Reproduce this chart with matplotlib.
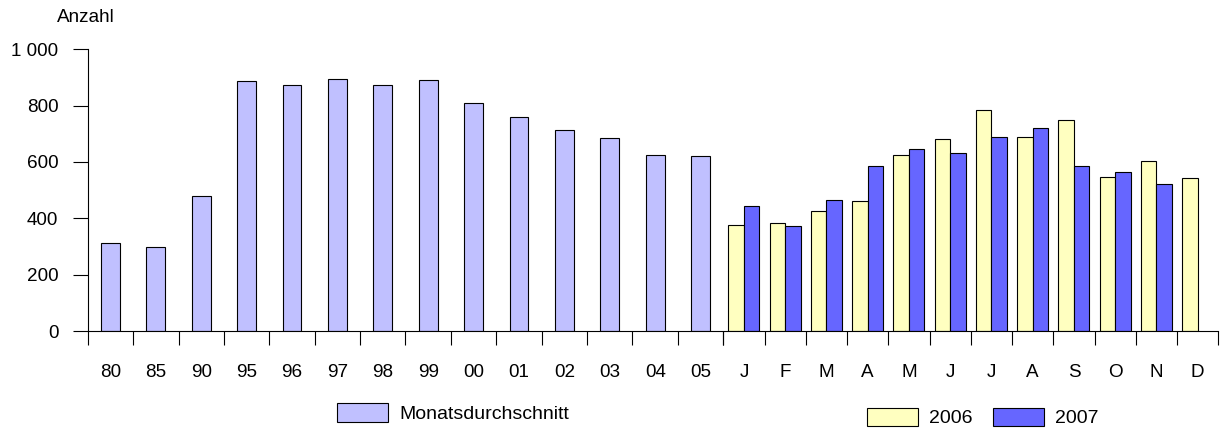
import matplotlib
matplotlib.use('Agg')
import matplotlib.pyplot as plt
from matplotlib.patches import Patch
import numpy as np

plt.rcParams['font.family'] = ['Liberation Sans', 'DejaVu Sans']

# Monatsdurchschnitt (Jahre)
years = ['80', '85', '90', '95', '96', '97', '98', '99', '00', '01', '02', '03', '04', '05']
avg = [311, 298, 480, 887, 874, 894, 872, 892, 808, 759, 712, 686, 626, 622]

# Monate 2006 / 2007
months = ['J', 'F', 'M', 'A', 'M', 'J', 'J', 'A', 'S', 'O', 'N', 'D']
v2006 = [377, 382, 425, 463, 626, 682, 786, 688, 748, 548, 604, 544]
v2007 = [443, 372, 464, 587, 646, 631, 688, 720, 586, 566, 523]

c_avg = '#C0C0FF'
c_06 = '#FFFFC0'
c_07 = '#6666FF'
fs = 13.6
fs_leg = 14

W, H = 1224, 430
fig = plt.figure(figsize=(W / 100, H / 100), dpi=100)

x0, x1, x2 = 87.7, 723.3, 1218.3
ybot, ytop = 331, 49.3
b = (H - ybot) / H
h = (ybot - ytop) / H
ax1 = fig.add_axes([x0 / W, b, (x1 - x0) / W, h])
ax2 = fig.add_axes([x1 / W, b, (x2 - x1) / W, h], sharey=ax1)

xa = np.arange(len(years))
ax1.bar(xa, avg, width=0.41, color=c_avg, edgecolor='black', linewidth=0.8)
ax1.set_xlim(-0.5, len(years) - 0.5)

xm = np.arange(len(months))
bw = 0.375
ax2.bar(xm - bw / 2, v2006, width=bw, color=c_06, edgecolor='black', linewidth=0.8)
ax2.bar(xm[:len(v2007)] + bw / 2, v2007, width=bw, color=c_07, edgecolor='black', linewidth=0.8)
ax2.set_xlim(-0.5, len(months) - 0.5)

ax1.set_ylim(0, 1000)
ax1.set_yticks([0, 200, 400, 600, 800, 1000])
ax1.set_yticklabels(['0', '200', '400', '600', '800', '1 000'])
ax1.tick_params(axis='y', direction='out', length=10.8, width=0.8, pad=10.4, labelsize=fs)

for ax, labels in ((ax1, years), (ax2, months)):
    n = len(labels)
    ax.set_xticks(np.arange(n + 1) - 0.5)
    ax.set_xticklabels([])
    ax.set_xticks(np.arange(n), minor=True)
    ax.set_xticklabels(labels, minor=True)
    ax.tick_params(axis='x', which='major', direction='out', length=10, width=0.8)
    ax.tick_params(axis='x', which='minor', length=0, pad=23.8, labelsize=fs)
    ax.spines['top'].set_visible(False)
    ax.spines['right'].set_visible(False)
    ax.spines['bottom'].set_linewidth(0.8)
    ax.spines['left'].set_linewidth(0.8)

ax2.spines['left'].set_visible(False)
ax2.tick_params(axis='y', left=False, labelleft=False)

fig.text(57 / W, 1 - 17 / H, 'Anzahl', fontsize=fs, va='center', ha='left')

leg_kw = dict(frameon=False, borderpad=0, borderaxespad=0, fontsize=fs_leg,
              handlelength=2.6, handleheight=1.1, handletextpad=0.6, loc='center left')
fig.legend(handles=[Patch(facecolor=c_avg, edgecolor='black', linewidth=0.8, label='Monatsdurchschnitt')],
           bbox_to_anchor=(337 / W, 1 - 413 / H), **leg_kw)
fig.legend(handles=[Patch(facecolor=c_06, edgecolor='black', linewidth=0.8, label='2006'),
                    Patch(facecolor=c_07, edgecolor='black', linewidth=0.8, label='2007')],
           bbox_to_anchor=(867 / W, 1 - 417.5 / H), ncol=2, columnspacing=1.05, **leg_kw)

fig.savefig('out.png', dpi=100)
